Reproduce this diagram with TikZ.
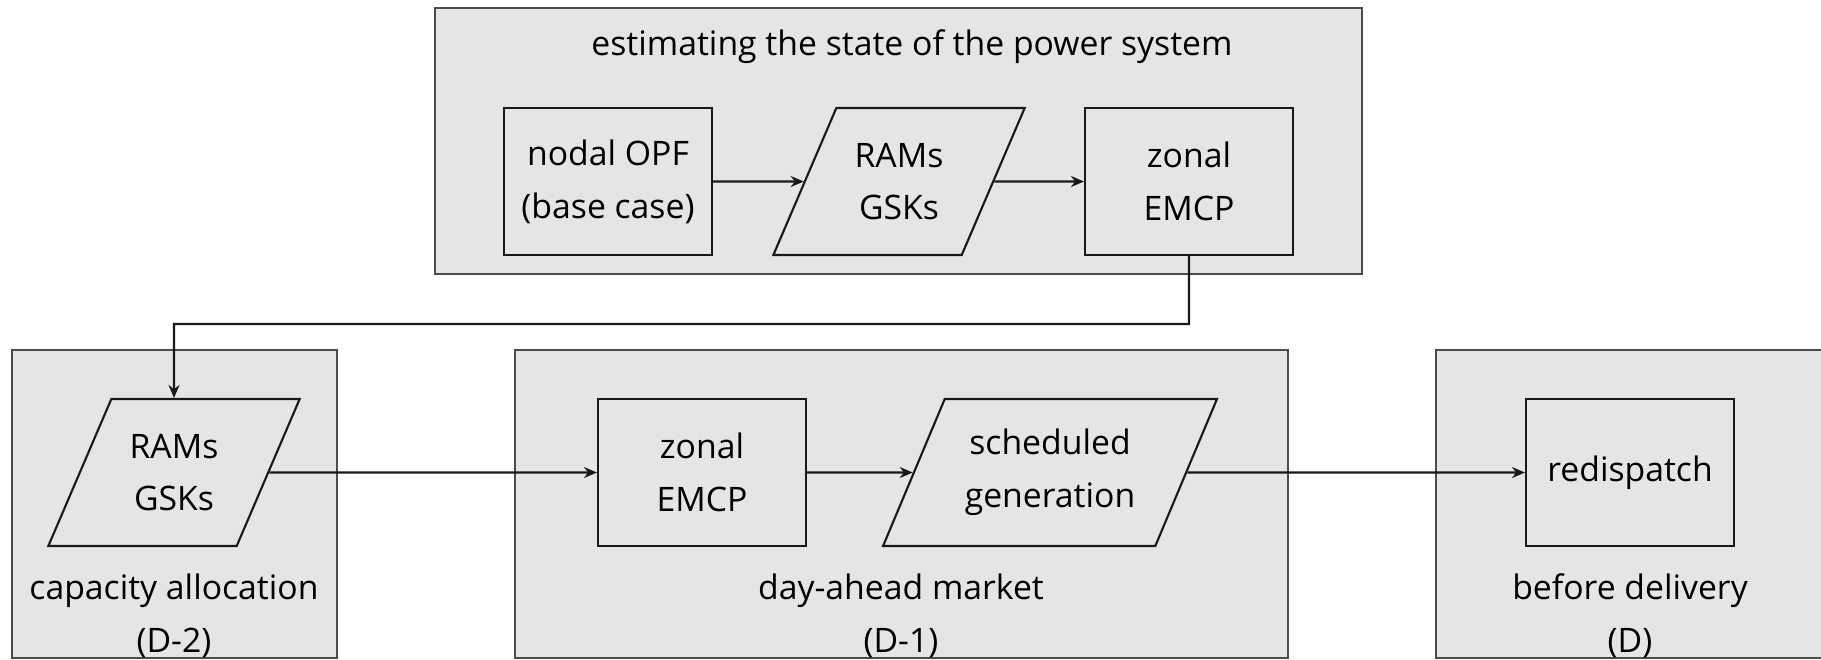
\documentclass[tikz,border=0pt]{standalone}
\usepackage{fontspec}
\setmainfont{Open Sans}
\usetikzlibrary{positioning,shapes.geometric,arrows.meta}

\begin{document}
\begin{tikzpicture}[
    x=0.1mm, y=-0.1mm,
    every node/.style={font=\fontsize{9.6}{15}\selectfont, align=center},
    stage/.style={draw=black!70, fill=black!10, line width=0.45pt},
    blk/.style={rectangle, draw=black!90, line width=0.6pt, inner sep=0pt,
        minimum width=20.8mm, minimum height=14.7mm},
    dat/.style={trapezium, trapezium left angle=60, trapezium right angle=120,
        trapezium stretches=true, draw=black!90, line width=0.6pt, inner sep=0pt,
        minimum width=25.2mm, minimum height=14.7mm},
    arr/.style={draw=black!90, line width=0.6pt, -{Stealth[length=1.3mm, width=1.1mm]}},
]
    \useasboundingbox (0,0) rectangle (1821,659);

    % Stages
    \draw[stage] (435,8) rectangle (1362,274);
    \draw[stage] (12,350) rectangle (337,658);
    \draw[stage] (515,350) rectangle (1288,658);
    \draw[stage] (1436,350) rectangle (1900,658);

    % Stage labels
    \node (est) at (912,47) {estimating the state of the power system};
    \node (capa) at (174,616) {capacity allocation\\(D-2)};
    \node (dam)  at (901,616) {day-ahead market\\(D-1)};
    \node (del)  at (1630,616) {before delivery\\(D)};

    % Top row
    \node[blk] (opf)   at (608,181.5)  {nodal OPF\\(base case)};
    \node[dat] (ram1)  at (899,181.5)  {RAMs\\GSKs};
    \node[blk] (emcp1) at (1189,181.5) {zonal\\EMCP};

    % Bottom row
    \node[dat] (ram2)  at (174,472.5)  {RAMs\\GSKs};
    \node[blk] (emcp2) at (702,472.5)  {zonal\\EMCP};
    \node[dat, minimum width=33.4mm] (sched) at (1050,472.5) {scheduled\\generation};
    \node[blk] (redis) at (1630,472.5) {redispatch};

    % Edges
    \coordinate (bend) at (174,324);
    \foreach \a/\b in {opf/ram1, ram1/emcp1, ram2/emcp2, emcp2/sched, sched/redis}
        \draw[arr] (\a) -- (\b);
    \draw[arr] (emcp1.south) |- (bend) -- (ram2.north);
\end{tikzpicture}
\end{document}
